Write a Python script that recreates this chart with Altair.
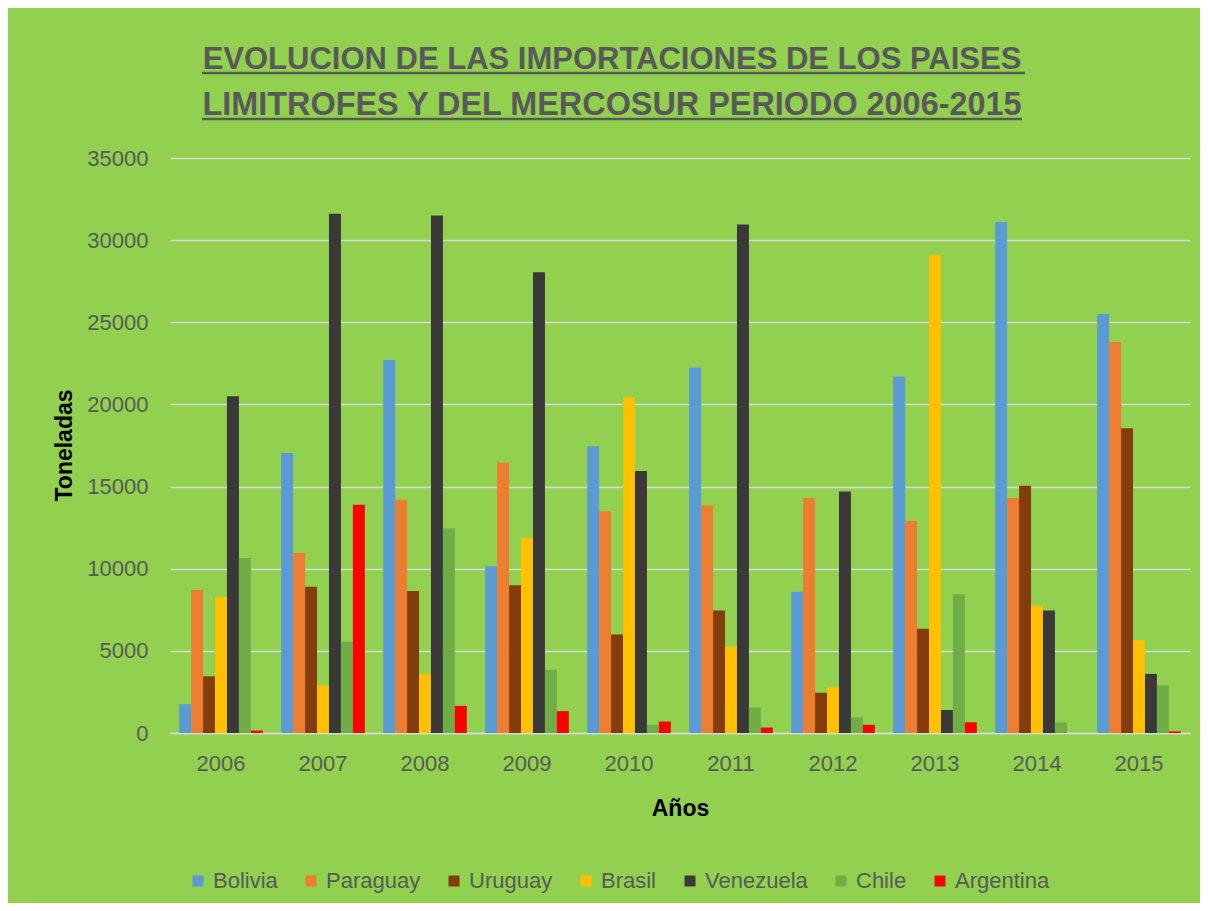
import altair as alt
import pandas as pd

YEARS = ["2006", "2007", "2008", "2009", "2010", "2011", "2012", "2013", "2014", "2015"]
SERIES = ["Bolivia", "Paraguay", "Uruguay", "Brasil", "Venezuela", "Chile", "Argentina"]
COLORS = ["#5B9BD5", "#ED7D31", "#843C0C", "#FFC000", "#3A3838", "#70AD47", "#FF0000"]

bolivia = [1750, 17050, 22700, 10150, 17450, 22250, 8600, 21700, 31100, 25500]
paraguay = [8700, 10950, 14200, 16450, 13500, 13850, 14300, 12900, 14300, 23800]
uruguay = [3450, 8900, 8650, 9000, 6000, 7450, 2450, 6350, 15050, 18550]
brasil = [8300, 2900, 3600, 11900, 20450, 5250, 2800, 29100, 7750, 5650]
venezuela = [20500, 31600, 31500, 28050, 15950, 30950, 14700, 1400, 7450, 3600]
chile = [10650, 5550, 12450, 3850, 500, 1550, 950, 8450, 640, 2900]
argentina = [150, 13900, 1650, 1330, 700, 330, 500, 650, 0, 100]

TITLE_LINES = ["EVOLUCION DE LAS IMPORTACIONES DE LOS PAISES",
               "LIMITROFES Y DEL MERCOSUR PERIODO 2006-2015"]
Y_TICKS = [0, 5000, 10000, 15000, 20000, 25000, 30000, 35000]

values = dict(zip(SERIES, [bolivia, paraguay, uruguay, brasil, venezuela, chile, argentina]))
rows = []
for s in SERIES:
    for y, v in zip(YEARS, values[s]):
        rows.append({"Año": y, "País": s, "Toneladas": v})
df = pd.DataFrame(rows)

FONT = "Liberation Sans"
GREY = "#595959"
BG = "#92D050"

bars = alt.Chart(df).mark_bar(strokeWidth=0).encode(
    x=alt.X("Año:N", sort=YEARS,
            scale=alt.Scale(paddingInner=0.18, paddingOuter=0.09),
            axis=alt.Axis(title="Años", labelAngle=0, labelFontSize=22, labelColor=GREY,
                          labelFont=FONT, labelPadding=20, ticks=False,
                          domainColor="#D9D9D9", domainWidth=1.5,
                          titleFont=FONT, titleFontSize=23, titleFontWeight="bold",
                          titleColor="#000000", titleY=82, titleBaseline="alphabetic")),
    xOffset=alt.XOffset("País:N", sort=SERIES, scale=alt.Scale(domain=SERIES)),
    y=alt.Y("Toneladas:Q", scale=alt.Scale(domain=[0, 35000]),
            axis=alt.Axis(title="Toneladas", values=Y_TICKS, format="d", labelFontSize=22,
                          labelColor=GREY, labelFont=FONT, labelPadding=22, ticks=False,
                          domain=False, gridColor="#D9D9D9", gridWidth=1.5,
                          titleFont=FONT, titleFontSize=23, titleFontWeight="bold",
                          titleColor="#000000", titleX=-99, titleY=287,
                          titleAngle=270, titleBaseline="alphabetic", titleAlign="center")),
    color=alt.Color("País:N", sort=SERIES,
                    scale=alt.Scale(domain=SERIES, range=COLORS),
                    legend=alt.Legend(title=None, orient="none", direction="horizontal",
                                      legendX=17, legendY=712, symbolType="square",
                                      symbolSize=120, symbolStrokeWidth=0,
                                      labelFont=FONT, labelFontSize=22, labelColor=GREY,
                                      labelOffset=4, columnPadding=22)),
)

title1 = alt.Chart(pd.DataFrame({"t": [TITLE_LINES[0]]})).mark_text(
    font=FONT, fontSize=31, fontWeight="bold", color=GREY, align="center", baseline="alphabetic"
).encode(text="t:N", x=alt.value(442), y=alt.value(-89))
title2 = alt.Chart(pd.DataFrame({"t": [TITLE_LINES[1]]})).mark_text(
    font=FONT, fontSize=32.4, fontWeight="bold", color=GREY, align="center", baseline="alphabetic"
).encode(text="t:N", x=alt.value(442), y=alt.value(-43))
ul1 = alt.Chart(pd.DataFrame({"t": [0]})).mark_rule(color=GREY, strokeWidth=2.5).encode(
    x=alt.value(32), x2=alt.value(855), y=alt.value(-85))
ul2 = alt.Chart(pd.DataFrame({"t": [0]})).mark_rule(color=GREY, strokeWidth=2.5).encode(
    x=alt.value(32), x2=alt.value(852), y=alt.value(-39))

chart = alt.layer(bars, title1, title2, ul1, ul2).properties(
    width=1020, height=575,
    autosize=alt.AutoSizeParams(type="none"),
    padding={"left": 162, "top": 150, "right": 10, "bottom": 170},
    background=BG,
).configure_view(stroke=None)

chart.save("out.html", embed_options={"renderer": "svg", "actions": False})
